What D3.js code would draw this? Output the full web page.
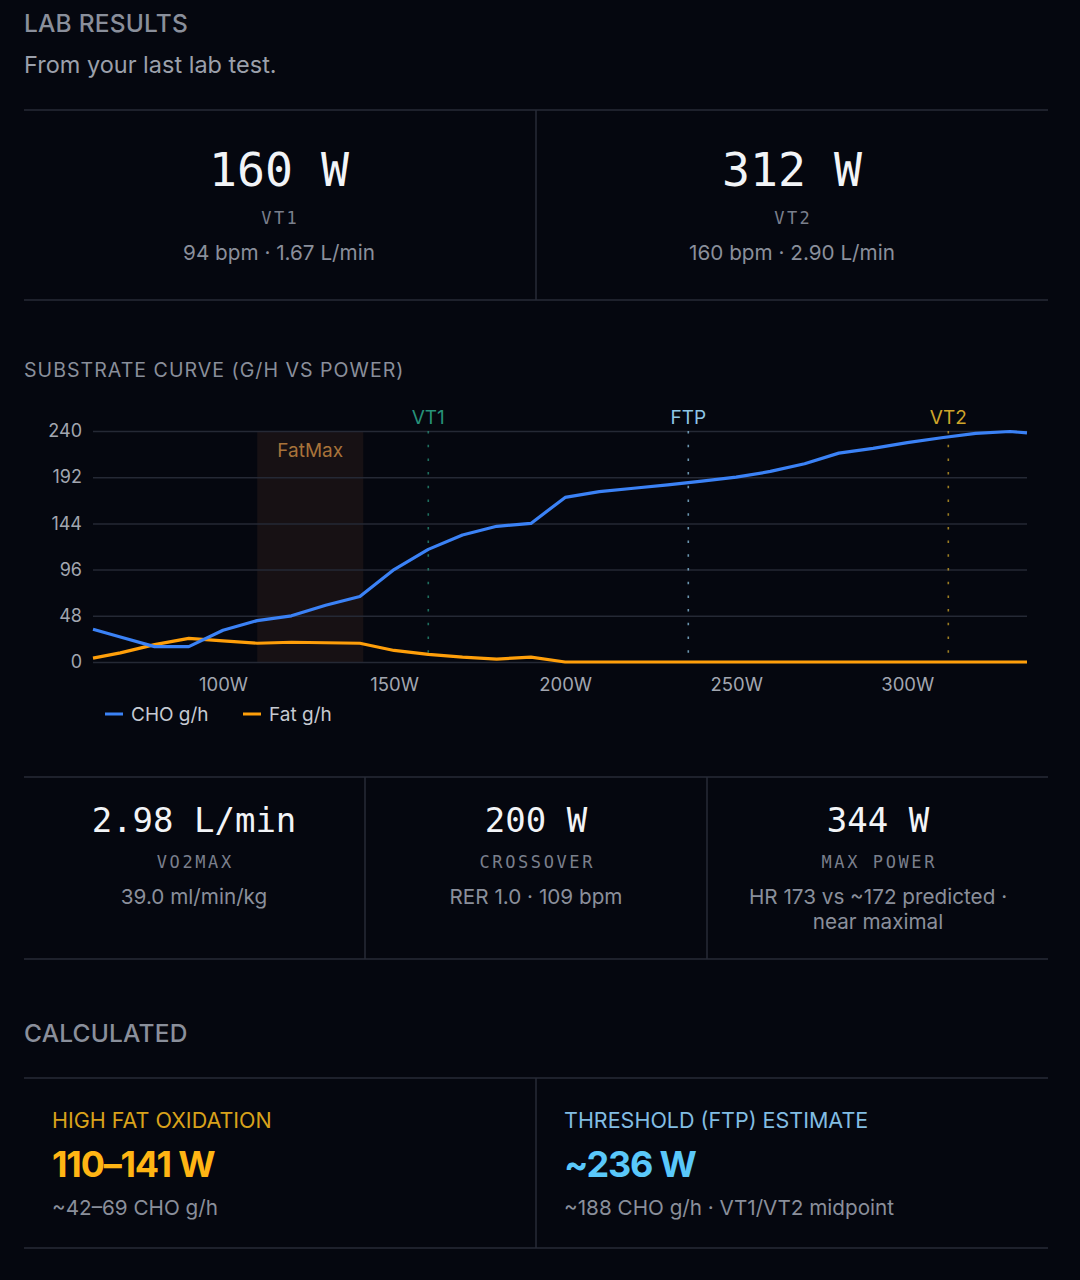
<!DOCTYPE html>
<html>
<head>
<meta charset="utf-8">
<script src="https://cdn.jsdelivr.net/npm/d3@7"></script>
<style>
  html, body { margin: 0; padding: 0; background: #05070f; }
  svg { display: block; }
</style>
</head>
<body>
<div id="chart"></div>
<script>
// ---------- data ----------
const power = [62, 70, 80, 90, 100, 110, 120, 130, 140, 150, 160, 170, 180, 190, 200, 210, 220, 230, 240, 250, 260, 270, 280, 290, 300, 310, 320, 330, 335];
const choGh = [34, 26, 16, 16, 33, 43, 48, 59, 68, 96, 117, 132, 141, 144, 171, 177, 180.5, 184, 188, 192, 198, 206, 217, 222, 228, 233, 237.5, 239.5, 238];
const fatGh = [4, 9.5, 18, 24.5, 22, 19.5, 20.5, 20, 19.5, 12, 8, 5, 3, 5, 0, 0, 0, 0, 0, 0, 0, 0, 0, 0, 0, 0, 0, 0, 0];
const yTicks = [0, 48, 96, 144, 192, 240];
const xTicks = [100, 150, 200, 250, 300];
const xTickLabels = ["100W", "150W", "200W", "250W", "300W"];
const markerNames = ["VT1", "FTP", "VT2"];
const markerWatts = [160, 236, 312];
const fatMaxRange = [110, 141];
const seriesNames = ["CHO g/h", "Fat g/h"];

const topCards = [
  { value: "160 W", label: "VT1", sub: ["94 bpm · 1.67 L/min"] },
  { value: "312 W", label: "VT2", sub: ["160 bpm · 2.90 L/min"] }
];
const midCards = [
  { value: "2.98 L/min", label: "VO2MAX", sub: ["39.0 ml/min/kg"] },
  { value: "200 W", label: "CROSSOVER", sub: ["RER 1.0 · 109 bpm"] },
  { value: "344 W", label: "MAX POWER", sub: ["HR 173 vs ~172 predicted ·", "near maximal"] }
];
const calcCards = [
  { title: "HIGH FAT OXIDATION", value: "110–141 W", sub: "~42–69 CHO g/h" },
  { title: "THRESHOLD (FTP) ESTIMATE", value: "~236 W", sub: "~188 CHO g/h · VT1/VT2 midpoint" }
];

// ---------- styles ----------
const SANS = "Inter, 'Noto Sans', sans-serif";
const MONO = "'DejaVu Sans Mono', monospace";
const C = {
  bg: "#05070f", rule: "#272b37", head: "#8a8f9b", sub: "#8a8f9b",
  white: "#f2f4f7", monoLabel: "#7a7f8c", axis: "#a2a6b0", grid: "#252935",
  cho: "#3b82f6", fat: "#ff9f0a",
  markers: ["#279179", "#8ec6e6", "#cfa52a"],
  amber: "#ffb514", amberTitle: "#d9a21b", blue: "#5ac8fa", blueTitle: "#82bde3"
};
const SUB_SIZE = 20.7;

const W = 1080, H = 1280;
const svg = d3.select("#chart").append("svg").attr("width", W).attr("height", H);
svg.append("rect").attr("width", W).attr("height", H).attr("fill", C.bg);

function text(x, y, str, o = {}) {
  return svg.append("text")
    .attr("x", x).attr("y", y).attr("dy", "0.35em")
    .attr("font-family", o.family || SANS)
    .attr("font-size", o.size || 19)
    .attr("font-weight", o.weight || 400)
    .attr("fill", o.fill || C.sub)
    .attr("text-anchor", o.anchor || "start")
    .attr("letter-spacing", o.ls || 0)
    .text(str);
}
function hline(y, x1 = 24, x2 = 1048) {
  svg.append("line").attr("x1", x1).attr("x2", x2).attr("y1", y).attr("y2", y)
    .attr("stroke", C.rule).attr("stroke-width", 1.5);
}
function vline(x, y1, y2) {
  svg.append("line").attr("x1", x).attr("x2", x).attr("y1", y1).attr("y2", y2)
    .attr("stroke", C.rule).attr("stroke-width", 1.5);
}

// ---------- header ----------
text(24, 23, "LAB RESULTS", { size: 24.5, weight: 500, fill: C.head, ls: 0.2 });
text(24, 65, "From your last lab test.", { size: 23.5, fill: "#9ba0ab" });

// ---------- top cards ----------
hline(110); hline(300); vline(536, 110, 300);
const topCx = [279, 792];
topCards.forEach((c, i) => {
  text(topCx[i], 170, c.value, { family: MONO, size: 46.5, fill: C.white, anchor: "middle" });
  text(topCx[i] + 1.25, 218, c.label, { family: MONO, size: 17, fill: C.monoLabel, anchor: "middle", ls: 2.5 });
  text(topCx[i], 253, c.sub[0], { size: SUB_SIZE, fill: C.sub, anchor: "middle" });
});

// ---------- chart ----------
text(24, 370, "SUBSTRATE CURVE (G/H VS POWER)", { size: 19.6, fill: C.head, ls: 1.0 });

const x = d3.scaleLinear().domain(d3.extent(power)).range([93, 1027]);
const y = d3.scaleLinear().domain([0, 240]).range([662, 431]);

// FatMax band
const band = svg.append("g");
band.append("rect")
  .attr("x", x(fatMaxRange[0])).attr("y", y(240))
  .attr("width", x(fatMaxRange[1]) - x(fatMaxRange[0]))
  .attr("height", y(0) - y(240))
  .attr("fill", "rgba(255,150,90,0.075)");
band.append("text")
  .attr("x", (x(fatMaxRange[0]) + x(fatMaxRange[1])) / 2).attr("y", 450).attr("dy", "0.35em")
  .attr("text-anchor", "middle").attr("font-family", SANS).attr("font-size", 19)
  .attr("fill", "#a8733a").text("FatMax");

// grid
const yAxis = d3.axisLeft(y).tickValues(yTicks).tickSize(-(1027 - 93)).tickPadding(11);
const gy = svg.append("g").attr("transform", "translate(93,0)").call(yAxis);
gy.select(".domain").remove();
gy.selectAll(".tick line").attr("stroke", C.grid).attr("stroke-width", 1.5);
gy.selectAll(".tick text").attr("fill", C.axis).attr("font-family", SANS).attr("font-size", 18);

const xAxis = d3.axisBottom(x).tickValues(xTicks).tickSize(0).tickPadding(16)
  .tickFormat((d, i) => xTickLabels[i]);
const gx = svg.append("g").attr("transform", "translate(0,662)").call(xAxis);
gx.select(".domain").remove();
gx.selectAll(".tick text").attr("fill", C.axis).attr("font-family", SANS).attr("font-size", 18.5);

// markers
markerNames.forEach((name, i) => {
  const mx = x(markerWatts[i]);
  svg.append("line").attr("x1", mx).attr("x2", mx).attr("y1", y(240)).attr("y2", y(0))
    .attr("stroke", C.markers[i]).attr("stroke-opacity", 0.75)
    .attr("stroke-width", 1.6).attr("stroke-dasharray", "2.5,11.2");
  svg.append("text").attr("x", mx).attr("y", 417).attr("dy", "0.35em")
    .attr("text-anchor", "middle").attr("font-family", SANS).attr("font-size", 19)
    .attr("fill", C.markers[i]).text(name);
});

// lines
const line = d3.line().x(d => x(d[0])).y(d => y(d[1]));
svg.append("path").datum(power.map((p, i) => [p, fatGh[i]]))
  .attr("d", line).attr("fill", "none").attr("stroke", C.fat)
  .attr("stroke-width", 3.2).attr("stroke-linejoin", "round");
svg.append("path").datum(power.map((p, i) => [p, choGh[i]]))
  .attr("d", line).attr("fill", "none").attr("stroke", C.cho)
  .attr("stroke-width", 3.2).attr("stroke-linejoin", "round");

// legend
const legendX = [105, 243];
const legendC = [C.cho, C.fat];
seriesNames.forEach((n, i) => {
  svg.append("line").attr("x1", legendX[i]).attr("x2", legendX[i] + 18)
    .attr("y1", 714).attr("y2", 714).attr("stroke", legendC[i]).attr("stroke-width", 3);
  text(legendX[i] + 26, 714, n, { size: 19, fill: "#c6cad2" });
});

// ---------- middle cards ----------
hline(777); hline(959); vline(365, 777, 959); vline(707, 777, 959);
const midCx = [194, 536, 878];
midCards.forEach((c, i) => {
  text(midCx[i], 820, c.value, { family: MONO, size: 34, fill: C.white, anchor: "middle" });
  text(midCx[i] + 1.25, 862, c.label, { family: MONO, size: 17, fill: C.monoLabel, anchor: "middle", ls: 2.6 });
  c.sub.forEach((s, j) => text(midCx[i], 897 + j * 25, s, { size: SUB_SIZE, fill: C.sub, anchor: "middle" }));
});

// ---------- calculated ----------
text(24, 1033, "CALCULATED", { size: 24.5, weight: 500, fill: C.head, ls: 0.2 });
hline(1078); hline(1248); vline(536, 1078, 1248);
const calcX = [52, 564];
const titleC = [C.amberTitle, C.blueTitle];
const valC = [C.amber, C.blue];
calcCards.forEach((c, i) => {
  text(calcX[i], 1120, c.title, { size: 21.5, fill: titleC[i] });
  text(calcX[i], 1164, c.value, { size: 36, weight: 700, fill: valC[i], ls: -1.2 });
  text(calcX[i], 1208, c.sub, { size: SUB_SIZE, fill: C.sub });
});
</script>
</body>
</html>
